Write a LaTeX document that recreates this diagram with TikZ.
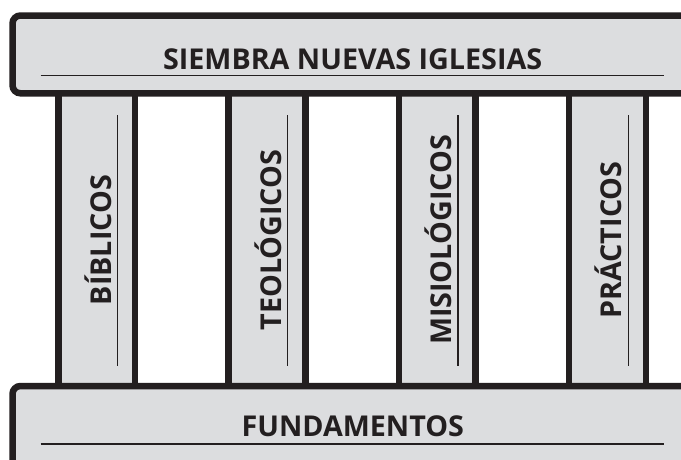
\documentclass[tikz,border=0pt]{standalone}
\usepackage{fontspec}
\setmainfont{Open Sans}[BoldFont={Open Sans Bold}]
\definecolor{ink}{HTML}{231F20}
\definecolor{stone}{HTML}{DCDDDF}
\begin{document}
\begin{tikzpicture}[x=1pt,y=-1pt,
  beam/.style={fill=stone,draw=ink,line width=6.5pt,rounded corners=8pt},
  pillar/.style={fill=stone,draw=ink,line width=6.5pt},
  rule/.style={draw=ink,line width=1.2pt},
  label/.style={font=\fontsize{28.7}{30}\selectfont\bfseries,text=ink,inner sep=0pt,anchor=base},
  vlabel/.style={label,rotate=90}]
\useasboundingbox (0,0) rectangle (681,459);
\clip (0,0) rectangle (681,459);
% pillars
\foreach \i/\x in {1/58.3,2/228.6,3/398.9,4/569.2}{
  \draw[pillar] (\x,90) rectangle (\x+76.8,390);
  \coordinate (lt\i) at (\x+59,115);
  \coordinate (lb\i) at (\x+59,365.7);
  \draw[rule] (lt\i) -- (lb\i);
}
% beams
\draw[beam] (12.5,15.5) rectangle (720,93.3);
\draw[beam] (12.5,386) rectangle (720,500);
\coordinate (ta) at (40.7,75.7); \coordinate (tb) at (664,75.7);
\coordinate (ba) at (40.7,444); \coordinate (bb) at (664,444);
\draw[rule] (ta) -- (tb);
\draw[rule] (ba) -- (bb);
\node[label] (title) at (352.6,69) {SIEMBRA NUEVAS IGLESIAS};
\node[label] (base) at (352.8,436.7) {FUNDAMENTOS};
\node[vlabel] (p1) at (58.3+52.7,240) {BÍBLICOS};
\node[vlabel] (p2) at (228.6+52.7,240) {TEOLÓGICOS};
\node[vlabel] (p3) at (398.9+52.7,240) {MISIOLÓGICOS};
\node[vlabel] (p4) at (569.2+52.7,240) {PRÁCTICOS};
\end{tikzpicture}
\end{document}
